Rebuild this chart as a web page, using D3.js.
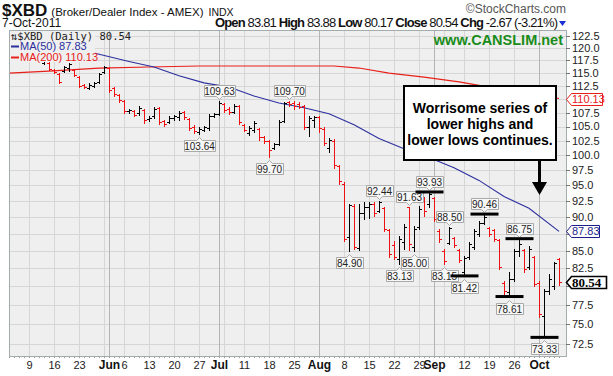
<!DOCTYPE html>
<html>
<head>
<meta charset="utf-8">
<script src="https://cdn.jsdelivr.net/npm/d3@7"></script>
<style>
  body { margin: 0; background: #fff; }
  svg { display: block; font-family: "Liberation Sans", Arial, sans-serif; }
</style>
</head>
<body>
<svg id="chart" width="613" height="376"></svg>
<script>
// trading calendar
const calendarStart = '2011-05-03';
const calendarEnd = '2011-10-08';
const holidays = ['2011-05-30', '2011-07-04', '2011-09-05'];

// daily bars, first bar on 2011-05-12
const barStart = '2011-05-12';
const open = [117.01, 117.01, 115.63, 114.85, 115.43, 116.02, 115.63, 114.26, 112.72, 112.15,
  112.53, 113.30, 115.24, 116.02, 112.15, 110.83, 109.71, 107.86, 107.86, 107.49,
  108.04, 106.40, 106.95, 108.41, 106.04, 105.86, 106.58, 106.76, 107.67, 106.40,
  104.97, 104.09, 104.44, 104.79, 106.95, 107.31, 109.15, 108.22, 107.67, 108.78,
  105.33, 103.91, 104.44, 104.62, 103.21, 102.51, 101.30, 101.99, 106.04, 109.52,
  109.33, 109.15, 108.78, 104.97, 106.22, 106.76, 104.62, 101.30, 102.51, 98.25,
  95.14, 86.98, 91.66, 85.37, 90.58, 91.50, 91.97, 90.89, 91.35, 88.01,
  85.80, 83.79, 86.24, 91.50, 85.51, 88.46, 92.75, 91.97, 92.91, 87.86,
  84.94, 86.10, 86.83, 85.08, 81.97, 84.08, 85.51, 87.42, 89.06, 88.31,
  88.01, 86.53, 80.46, 79.25, 81.00, 84.94, 85.08, 82.67, 84.08, 80.46,
  76.10, 79.38, 80.05, 83.81];
const high = [117.61, 117.21, 115.83, 115.04, 116.42, 117.01, 115.83, 114.46, 112.91, 113.10,
  113.30, 115.04, 116.42, 116.22, 112.34, 111.02, 109.89, 108.22, 108.04, 108.78,
  108.22, 106.95, 108.59, 108.59, 106.22, 106.95, 107.13, 107.86, 107.86, 106.58,
  105.33, 104.97, 105.15, 107.31, 107.49, 109.63, 109.33, 108.59, 109.15, 108.96,
  105.51, 105.15, 106.04, 104.79, 103.38, 102.68, 102.16, 106.22, 109.41, 109.70,
  109.60, 109.52, 108.96, 106.95, 106.95, 106.95, 104.97, 103.03, 102.86, 98.42,
  95.47, 91.97, 91.97, 91.97, 92.28, 92.28, 92.28, 92.44, 91.50, 88.16,
  86.39, 87.12, 88.91, 91.63, 88.61, 91.66, 93.07, 93.93, 93.07, 88.16,
  85.22, 88.50, 86.98, 85.22, 84.22, 86.24, 88.16, 89.36, 90.46, 88.46,
  88.16, 86.68, 80.73, 81.97, 85.22, 86.75, 85.22, 85.66, 84.22, 80.73,
  79.65, 81.69, 83.37, 83.88];
const low = [116.81, 115.63, 115.04, 113.10, 115.24, 115.43, 114.46, 112.34, 112.15, 111.96,
  112.34, 113.10, 115.04, 111.39, 110.64, 109.52, 107.49, 107.49, 106.95, 107.13,
  105.69, 106.04, 106.58, 105.51, 105.15, 105.69, 106.22, 106.22, 106.40, 104.44,
  103.91, 103.64, 104.26, 104.44, 106.76, 107.13, 107.67, 107.31, 107.49, 105.51,
  104.26, 103.56, 104.09, 102.68, 102.16, 99.70, 101.12, 101.81, 105.86, 108.78,
  108.22, 108.41, 104.62, 103.38, 104.97, 104.09, 101.81, 100.61, 97.92, 95.14,
  86.39, 84.90, 85.22, 85.08, 89.66, 89.82, 90.12, 90.73, 87.86, 84.08,
  83.79, 83.13, 85.22, 85.10, 85.00, 88.16, 90.12, 91.50, 89.36, 86.24,
  83.15, 85.95, 85.51, 83.37, 81.42, 83.79, 85.22, 87.12, 88.91, 87.12,
  86.39, 82.39, 78.71, 78.61, 80.73, 84.22, 81.97, 82.39, 80.05, 75.97,
  73.33, 78.98, 79.65, 80.17];
const close = [117.41, 115.83, 115.24, 113.30, 116.22, 116.81, 114.65, 112.53, 112.34, 112.72,
  113.10, 114.85, 116.22, 111.77, 111.02, 109.89, 107.86, 108.04, 107.13, 108.41,
  106.22, 106.58, 108.22, 105.86, 105.51, 106.58, 106.95, 107.49, 106.76, 104.79,
  104.26, 104.62, 104.97, 106.95, 107.31, 109.33, 108.04, 107.67, 108.78, 105.86,
  104.44, 104.79, 105.69, 103.21, 102.51, 100.95, 101.99, 105.86, 109.33, 109.15,
  108.78, 108.59, 104.97, 106.58, 106.76, 104.79, 102.16, 102.68, 98.42, 95.63,
  86.68, 91.81, 85.51, 90.58, 91.50, 91.97, 90.58, 92.28, 88.16, 84.51,
  84.08, 86.68, 88.46, 85.95, 88.16, 91.19, 90.89, 93.54, 89.66, 86.68,
  83.51, 88.31, 85.80, 83.65, 83.94, 85.95, 87.86, 89.06, 89.97, 87.42,
  86.68, 82.67, 79.38, 81.00, 84.94, 85.95, 82.39, 85.22, 80.32, 76.35,
  79.38, 81.00, 83.21, 80.54];

// moving averages, read at a few dates
const ma50Dates = ['2011-05-26', '2011-06-07', '2011-06-14', '2011-06-21', '2011-06-28', '2011-07-06',
  '2011-07-13', '2011-07-20', '2011-07-27', '2011-08-03', '2011-08-10', '2011-08-17', '2011-08-24',
  '2011-08-31', '2011-09-08', '2011-09-15', '2011-09-22', '2011-09-29', '2011-10-07'];
const ma50Values = [119.0, 117.3, 116.2, 114.5, 113.1, 112.3, 110.6, 109.3, 108.4, 107.3,
  105.3, 102.9, 101.1, 99.6, 97.9, 95.8, 93.2, 91.35, 87.83];
const ma200Dates = ['2011-05-03', '2011-05-13', '2011-05-27', '2011-06-13', '2011-06-27', '2011-08-04',
  '2011-08-11', '2011-08-19', '2011-08-30', '2011-09-09', '2011-09-19', '2011-09-29', '2011-10-07'];
const ma200Values = [115.0, 115.4, 116.0, 116.2, 116.4, 116.4, 116.0, 115.0, 114.2, 113.3, 112.3, 111.4, 110.13];

// axes
const yTicks = [72.5, 75.0, 77.5, 80.0, 82.5, 85.0, 87.5, 90.0, 92.5, 95.0, 97.5, 100.0,
  102.5, 105.0, 107.5, 110.0, 112.5, 115.0, 117.5, 120.0, 122.5];
const hiddenTicks = [110.0, 87.5, 80.0]; // covered by the price tags
const tickDates = ['2011-05-09', '2011-05-16', '2011-05-23', '2011-06-06', '2011-06-13', '2011-06-20',
  '2011-06-27', '2011-07-11', '2011-07-18', '2011-07-25', '2011-08-08', '2011-08-15', '2011-08-22',
  '2011-08-29', '2011-09-12', '2011-09-19', '2011-09-26'];
const tickLabels = ['9', '16', '23', '6', '13', '20', '27', '11', '18', '25', '8', '15', '22', '29', '12', '19', '26'];
const monthDates = ['2011-06-01', '2011-07-01', '2011-08-01', '2011-09-01', '2011-10-03'];
const monthLabels = ['Jun', 'Jul', 'Aug', 'Sep', 'Oct'];

// annotated highs / lows
const peakDates = ['2011-07-01', '2011-06-27', '2011-07-18', '2011-07-22', '2011-08-09', '2011-08-17',
  '2011-08-23', '2011-08-25', '2011-08-26', '2011-08-31', '2011-09-07', '2011-09-06', '2011-09-12',
  '2011-09-16', '2011-09-23', '2011-09-27', '2011-10-04'];
const peakValues = [109.63, 103.64, 99.70, 109.70, 84.90, 92.44, 83.13, 91.63, 85.00, 93.93, 88.50,
  83.15, 81.42, 90.46, 78.61, 86.75, 73.33];
const peakSides = ['H', 'L', 'L', 'H', 'L', 'H', 'L', 'H', 'L', 'H', 'H', 'L', 'L', 'H', 'L', 'H', 'L'];
const markedPeaks = [93.93, 81.42, 90.46, 78.61, 86.75, 73.33];

const lastOpen = 83.81, lastHigh = 83.88, lastLow = 80.17, lastClose = 80.54, lastChg = -2.67, lastPct = -3.21;
const lastMa50 = 87.83, lastMa200 = 110.13;

// ---------------------------------------------------------------
const svg = d3.select('#chart');
const parse = d3.timeParse('%Y-%m-%d');
const fmt = d3.timeFormat('%Y-%m-%d');
const plot = { left: 9, right: 566, top: 30, bottom: 356 };

const days = d3.timeDay.range(parse(calendarStart), parse(calendarEnd))
    .filter((d) => d.getDay() > 0 && d.getDay() < 6 && !holidays.includes(fmt(d)));
const dayIndex = new Map(days.map((d, i) => [fmt(d), i]));
const pos = (s) => dayIndex.get(s);

const x = d3.scaleLinear().domain([0, 111.4]).range([plot.left, plot.right]);
const y = d3.scaleLog().domain([71.04, 123.76]).range([plot.bottom, plot.top]);
const px = (s) => Math.round(x(pos(s))) + 0.5;

const bars = open.map((o, k) => ({
    i: pos(barStart) + k,
    o: o, h: high[k], l: low[k], c: close[k],
    up: k === 0 ? true : close[k] >= close[k - 1]
}));

// plot background
svg.append('rect')
    .attr('x', plot.left).attr('y', plot.top)
    .attr('width', plot.right - plot.left).attr('height', plot.bottom - plot.top)
    .attr('fill', '#efefef');

// horizontal grid
svg.append('g').selectAll('line').data(yTicks).join('line')
    .attr('x1', plot.left).attr('x2', plot.right)
    .attr('y1', (d) => Math.round(y(d)) + 0.5).attr('y2', (d) => Math.round(y(d)) + 0.5)
    .attr('stroke', '#d6d6d6');

// weekly grid (first trading day of each week)
const weekStarts = days.filter((d, i) => i > 0 && d3.timeWeek.floor(d) > d3.timeWeek.floor(days[i - 1]));
svg.append('g').selectAll('line').data(weekStarts).join('line')
    .attr('x1', (d) => px(fmt(d))).attr('x2', (d) => px(fmt(d)))
    .attr('y1', plot.top).attr('y2', plot.bottom)
    .attr('stroke', '#d6d6d6');
svg.append('g').selectAll('line').data(monthDates).join('line')
    .attr('x1', (d) => px(d)).attr('x2', (d) => px(d))
    .attr('y1', plot.top).attr('y2', plot.bottom)
    .attr('stroke', '#b4b4b4');

// daily ticks along the bottom
svg.append('g').selectAll('line').data(days).join('line')
    .attr('x1', (d) => px(fmt(d))).attr('x2', (d) => px(fmt(d)))
    .attr('y1', plot.bottom).attr('y2', plot.bottom + 2)
    .attr('stroke', '#9a9a9a');

// moving averages
const line = d3.line().x((d) => x(pos(d[0]))).y((d) => y(d[1]));
svg.append('path')
    .attr('d', line(d3.zip(ma200Dates, ma200Values)))
    .attr('fill', 'none').attr('stroke', '#e8201a').attr('stroke-width', 1.2);
svg.append('path')
    .attr('d', line(d3.zip(ma50Dates, ma50Values)))
    .attr('fill', 'none').attr('stroke', '#2b2f9e').attr('stroke-width', 1.1);

// OHLC bars
const bx = (d) => Math.round(x(d.i)) + 0.5;
const yr = (v) => Math.round(y(v)) + 0.5;
const gBars = svg.append('g');
const barSel = gBars.selectAll('g').data(bars).join('g')
    .attr('stroke', (d) => (d.up ? '#000' : '#ee1111'))
    .attr('stroke-width', 1);
barSel.append('line')
    .attr('x1', bx).attr('x2', bx)
    .attr('y1', (d) => Math.round(y(d.h))).attr('y2', (d) => Math.round(y(d.l)) + 1);
barSel.append('line')
    .attr('x1', (d) => bx(d) - 2.5).attr('x2', bx)
    .attr('y1', (d) => yr(d.o)).attr('y2', (d) => yr(d.o));
barSel.append('line')
    .attr('x1', bx).attr('x2', (d) => bx(d) + 2.5)
    .attr('y1', (d) => yr(d.c)).attr('y2', (d) => yr(d.c));

// plot border
svg.append('rect')
    .attr('x', plot.left + 0.5).attr('y', plot.top + 0.5)
    .attr('width', plot.right - plot.left).attr('height', plot.bottom - plot.top)
    .attr('fill', 'none').attr('stroke', '#a3adad');

// peak labels
const peaks = peakDates.map((d, k) => ({ d: d, v: peakValues[k], side: peakSides[k] }));
const gPeaks = svg.append('g').attr('font-size', 10);
peaks.forEach((p) => {
    const cx = px(p.d);
    const vy = y(p.v);
    const w = p.v >= 100 ? 31 : 27;
    const h = 11;
    const top = p.side === 'H' ? vy - 16 : vy + 6;
    const x0 = Math.round(cx - w / 2) + 0.5;
    const t = Math.round(top) + 0.5;
    let path;
    if (p.side === 'H') {
        path = `M${x0},${t}H${x0 + w}V${t + h}H${cx + 3}L${cx},${t + h + 3}L${cx - 3},${t + h}H${x0}Z`;
    } else {
        path = `M${x0},${t}H${cx - 3}L${cx},${t - 3}L${cx + 3},${t}H${x0 + w}V${t + h}H${x0}Z`;
    }
    gPeaks.append('path').attr('d', path).attr('fill', '#f7f7f7').attr('stroke', '#a9a9a9');
    gPeaks.append('text')
        .attr('x', cx).attr('y', t + h - 2)
        .attr('text-anchor', 'middle').attr('fill', '#222')
        .text(p.v.toFixed(2));
});

// level lines on marked highs / lows
svg.append('g').selectAll('line').data(peaks.filter((p) => markedPeaks.includes(p.v))).join('line')
    .attr('x1', (p) => px(p.d) - 14).attr('x2', (p) => px(p.d) + 14)
    .attr('y1', (p) => y(p.v)).attr('y2', (p) => y(p.v))
    .attr('stroke', '#000').attr('stroke-width', 3);

// legend
const legend = svg.append('g').attr('font-size', 11);
legend.append('rect').attr('x', plot.left + 1).attr('y', plot.top + 1).attr('width', 85).attr('height', 31).attr('fill', '#efefef');
legend.append('text').attr('x', 11).attr('y', 40).attr('fill', '#222')
    .style('font-family', '"DejaVu Sans Mono", monospace').attr('font-size', 10.5)
    .text('\u21C5$XBD (Daily) ' + lastClose.toFixed(2));
legend.append('line').attr('x1', 11).attr('x2', 19).attr('y1', 46.5).attr('y2', 46.5).attr('stroke', '#2b2f9e').attr('stroke-width', 2);
legend.append('text').attr('x', 20).attr('y', 50).attr('fill', '#2b2f9e').text('MA(50) ' + lastMa50.toFixed(2));
legend.append('line').attr('x1', 11).attr('x2', 19).attr('y1', 57.5).attr('y2', 57.5).attr('stroke', '#e8201a').attr('stroke-width', 2);
legend.append('text').attr('x', 20).attr('y', 61).attr('fill', '#e8201a').text('MA(200) ' + lastMa200.toFixed(2));

// watermark
svg.append('text').attr('x', 563).attr('y', 45).attr('text-anchor', 'end')
    .attr('font-size', 14.5).attr('font-weight', 'bold').attr('fill', '#1a8c1a')
    .text('www.CANSLIM.net');

// annotation box and arrow
svg.append('rect').attr('x', 404).attr('y', 86).attr('width', 152).attr('height', 74)
    .attr('fill', '#fff').attr('stroke', '#000').attr('stroke-width', 2);
const note = ['Worrisome series of', 'lower highs and', 'lower lows continues.'];
svg.append('g').selectAll('text').data(note).join('text')
    .attr('x', 480).attr('y', (d, k) => 113 + k * 16)
    .attr('text-anchor', 'middle').attr('font-size', 14).attr('font-weight', 'bold')
    .text((d) => d);
svg.append('line').attr('x1', 539.5).attr('x2', 539.5).attr('y1', 161).attr('y2', 183)
    .attr('stroke', '#000').attr('stroke-width', 3);
svg.append('path').attr('d', 'M532,182L547,182L539.5,195Z').attr('fill', '#000');

// right axis
const shownTicks = yTicks.filter((d) => !hiddenTicks.includes(d));
const gAxis = svg.append('g').attr('font-size', 11).attr('fill', '#222');
gAxis.selectAll('line').data(yTicks).join('line')
    .attr('x1', plot.right).attr('x2', plot.right + 4)
    .attr('y1', (d) => Math.round(y(d)) + 0.5).attr('y2', (d) => Math.round(y(d)) + 0.5)
    .attr('stroke', '#777');
gAxis.selectAll('text').data(shownTicks).join('text')
    .attr('x', 572).attr('y', (d) => y(d)).attr('dy', '0.36em')
    .text((d) => d.toFixed(1));

// price tags on the axis
const tag = (v, color, w, bold) => {
    const ty = Math.round(y(v)) + 0.5;
    const g = svg.append('g');
    g.append('path')
        .attr('d', `M566.5,${ty}L571.5,${ty - 6}H${571.5 + w}V${ty + 6}H571.5Z`)
        .attr('fill', '#fff').attr('stroke', color).attr('stroke-width', bold ? 1.6 : 1);
    g.append('text').attr('x', 572).attr('y', ty).attr('dy', '0.36em')
        .attr('fill', color)
        .attr('font-size', bold ? 13 : 11)
        .attr('font-weight', bold ? 'bold' : 'normal')
        .style('font-family', bold ? '"Liberation Serif", serif' : null)
        .text(v.toFixed(2));
};
tag(lastMa200, '#e8201a', 31, false);
tag(lastMa50, '#1c1f8a', 28, false);
tag(lastClose, '#000', 35, true);

// bottom axis labels
svg.append('g').selectAll('text').data(tickDates).join('text')
    .attr('x', (d) => px(d)).attr('y', 369)
    .attr('text-anchor', 'middle').attr('font-size', 11).attr('fill', '#222')
    .text((d, k) => tickLabels[k]);
svg.append('g').selectAll('text').data(monthDates).join('text')
    .attr('x', (d) => px(d)).attr('y', 369)
    .attr('text-anchor', 'middle').attr('font-size', 12).attr('font-weight', 'bold').attr('fill', '#111')
    .text((d, k) => monthLabels[k]);

// header
const head = svg.append('text').attr('x', 2).attr('y', 16).attr('fill', '#111');
head.append('tspan').attr('font-size', 17).attr('font-weight', 'bold').text('$XBD');
head.append('tspan').attr('font-size', 11.5).attr('dx', 4).text('(Broker/Dealer Index - AMEX)');
head.append('tspan').attr('font-size', 10.5).attr('dx', 5).text('INDX');

svg.append('text').attr('x', 566).attr('y', 13).attr('text-anchor', 'end')
    .attr('font-size', 12).attr('fill', '#555').text('\u00A9StockCharts.com');

svg.append('text').attr('x', 2).attr('y', 27).attr('font-size', 12).attr('fill', '#111').text('7-Oct-2011');

const stats = svg.append('text').attr('x', 215).attr('y', 27)
    .attr('font-size', 13).attr('fill', '#111')
    .attr('textLength', 343).attr('lengthAdjust', 'spacing');
[['Open', lastOpen.toFixed(2)], ['High', lastHigh.toFixed(2)], ['Low', lastLow.toFixed(2)],
 ['Close', lastClose.toFixed(2)], ['Chg', lastChg.toFixed(2) + ' (' + lastPct.toFixed(2) + '%)']]
    .forEach((s, k) => {
        stats.append('tspan').attr('font-weight', 'bold').text((k ? '  ' : '') + s[0]);
        stats.append('tspan').text(' ' + s[1]);
    });
svg.append('path').attr('d', 'M559,21L566,21L562.5,26Z').attr('fill', '#1a2fd6');
</script>
</body>
</html>
